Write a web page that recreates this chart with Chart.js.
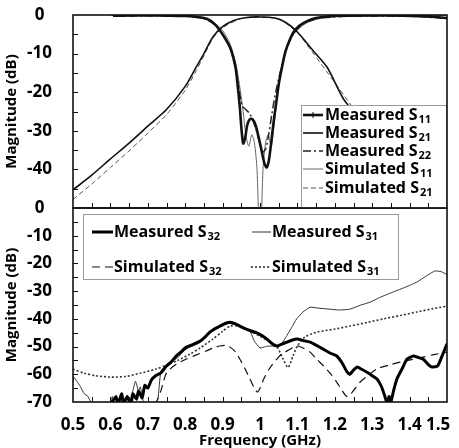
<!DOCTYPE html>
<html><head><meta charset="utf-8">
<script src="https://cdn.jsdelivr.net/npm/chart.js@4"></script>
<style>
html,body{margin:0;padding:0;background:#fff;width:459px;height:448px;overflow:hidden}
canvas{position:absolute;left:0;top:0}
</style></head>
<body>
<canvas id="bot" width="459" height="448"></canvas>
<canvas id="top" width="459" height="448"></canvas>
<script>
// ---------- DATA ----------
const xTickLabels = [0.5,0.6,0.7,0.8,0.9,1,1.1,1.2,1.3,1.4,1.5];
const xMinorTicks = [0.55,0.6,0.65,0.7,0.75,0.8,0.85,0.9,0.95,1,1.05,1.1,1.15,1.2,1.25,1.3,1.35,1.4,1.45];
const topYTickLabels = [0,-10,-20,-30,-40];
const botYTickLabels = [0,-10,-20,-30,-40,-50,-60,-70];
const topYMinor = [-5,-10,-15,-20,-25,-30,-35,-40,-45];
const botYMinor = [-5,-10,-15,-20,-25,-30,-35,-40,-45,-50,-55,-60,-65];

const topSeriesNames = ['Measured S11','Measured S21','Measured S22','Simulated S11','Simulated S21'];
const botSeriesNames = ['Measured S32','Measured S31','Simulated S32','Simulated S31'];

// Top panel
const measS11_f = [0.607,0.65,0.7,0.75,0.8,0.83,0.85,0.866,0.88,0.893,0.905,0.92,0.928,0.935,0.94,0.946,0.95,0.955,0.96,0.966,0.973,0.98,0.988,0.996,1.004,1.012,1.018,1.024,1.03,1.036,1.043,1.05,1.059,1.068,1.078,1.09,1.105,1.126,1.15,1.18,1.22,1.3,1.38,1.43,1.47,1.5];
const measS11_db = [-0.2,-0.1,-0.1,-0.15,-0.25,-0.5,-0.8,-1.4,-2.5,-4.0,-5.8,-8.4,-10.8,-13.8,-18,-23.8,-29,-33.3,-32,-28.5,-27,-27,-28.5,-31.5,-35,-38.5,-39.5,-37.5,-33,-28,-23,-18,-13.4,-9.5,-6.8,-4.4,-2.8,-1.6,-0.8,-0.4,-0.2,-0.1,-0.15,-0.3,-0.5,-0.8];

const measS21_f = [0.5,0.55,0.6,0.65,0.7,0.75,0.8,0.83,0.85,0.874,0.9,0.93,0.96,1.0,1.04,1.07,1.1,1.14,1.18,1.225,1.3,1.4,1.5];
const measS21_db = [-45.3,-41.5,-37.3,-33.2,-28.8,-24.5,-18.5,-13.4,-10,-5.7,-3.0,-1.4,-0.7,-0.5,-0.8,-2,-4.4,-9,-13.6,-22,-30,-38,-45];

const measS22_f = [0.607,0.7,0.8,0.85,0.88,0.9,0.92,0.935,0.945,0.952,0.962,0.972,0.982,0.992,1.0,1.008,1.016,1.024,1.032,1.04,1.05,1.06,1.07,1.09,1.12,1.16,1.25,1.4,1.5];
const measS22_db = [-0.3,-0.2,-0.3,-0.9,-2.6,-5,-8.6,-14,-20,-23.5,-24.5,-25.5,-27.5,-30.5,-33.5,-35.5,-34.5,-30.5,-25.5,-21,-16.5,-12.5,-9,-4.8,-2,-0.8,-0.3,-0.3,-0.9];

const simS11_f = [0.6,0.7,0.8,0.85,0.88,0.9,0.92,0.935,0.945,0.955,0.962,0.97,0.978,0.985,0.992,0.997,1.0,1.003,1.008,1.015,1.022,1.03,1.036,1.045,1.055,1.065,1.08,1.1,1.13,1.17,1.25,1.5];
const simS11_db = [-0.05,-0.1,-0.2,-0.7,-2.2,-4,-7.5,-12.5,-18,-25,-31,-34,-31,-33,-40,-55,-60,-55,-40,-33,-31,-34,-30,-22,-15,-10.5,-6.5,-3.8,-1.8,-0.7,-0.2,-0.1];

const simS21_f = [0.5,0.55,0.6,0.65,0.7,0.75,0.8,0.83,0.85,0.874,0.9,0.95,1.0,1.05,1.1,1.14,1.2,1.3,1.4,1.5];
const simS21_db = [-47.8,-43.8,-39.5,-35.2,-30.6,-25.8,-19.5,-14.3,-10.6,-6.0,-3.3,-0.9,-0.5,-1.0,-4.6,-9.6,-17.5,-30.5,-39,-46];

// Bottom panel
const measS32_f = [0.6,0.615,0.62,0.63,0.635,0.645,0.655,0.66,0.67,0.675,0.685,0.692,0.7,0.71,0.72,0.735,0.75,0.763,0.776,0.79,0.803,0.82,0.84,0.855,0.866,0.88,0.893,0.91,0.92,0.935,0.946,0.96,0.975,0.99,1.005,1.02,1.035,1.045,1.06,1.072,1.085,1.1,1.115,1.134,1.15,1.17,1.19,1.205,1.22,1.232,1.24,1.25,1.26,1.272,1.285,1.3,1.313,1.325,1.334,1.34,1.345,1.35,1.357,1.366,1.38,1.393,1.41,1.425,1.436,1.45,1.46,1.475,1.485,1.5];
const measS32_db = [-71,-68,-71,-67,-70.5,-68,-71,-67,-69,-66,-68.5,-64,-65,-62,-60.6,-59.5,-57,-55.5,-53.4,-51.8,-50.2,-49.3,-48,-46.3,-44.8,-43.5,-42.6,-41.5,-41.2,-41.8,-42.6,-43.5,-44.3,-45,-46,-47.5,-49.2,-49.8,-49,-48.4,-47.7,-47.3,-47.8,-48.4,-49.5,-51,-52.5,-53.4,-56,-59,-60,-58.5,-57.4,-58.2,-59.2,-60.5,-61.7,-64.5,-68,-70.5,-68,-70,-66,-61.7,-58,-54.5,-53.4,-54,-54.5,-56.5,-57.4,-57,-54,-49];

const measS31_f = [0.5,0.502,0.51,0.52,0.53,0.54,0.55,0.6,0.605,0.61,0.64,0.645,0.65,0.66,0.667,0.675,0.68,0.69,0.72,0.727,0.735,0.75,0.76,0.78,0.8,0.82,0.84,0.86,0.88,0.9,0.92,0.94,0.96,0.973,0.985,1.0,1.015,1.027,1.053,1.072,1.085,1.098,1.115,1.134,1.16,1.187,1.21,1.24,1.27,1.294,1.32,1.356,1.39,1.42,1.445,1.468,1.485,1.5];
const measS31_db = [-63,-61,-62.5,-64.5,-67,-68,-70.5,-70.5,-68,-70.5,-70.5,-67.5,-70.5,-66,-62.5,-66,-64.5,-70.5,-70.5,-69,-59,-56.5,-55.5,-54,-51,-49.8,-48.5,-45.5,-44,-42.3,-41.6,-42.5,-43.6,-44.4,-48,-50.5,-50,-49.8,-49.8,-46,-43,-40,-37.5,-35.8,-36.2,-36.5,-36.8,-36.5,-35,-34,-32.3,-30.3,-28.5,-26.7,-24.5,-22.7,-23,-24];

const simS32_f = [0.72,0.735,0.75,0.775,0.803,0.83,0.856,0.875,0.893,0.91,0.92,0.935,0.946,0.96,0.973,0.985,0.993,1.0,1.01,1.025,1.045,1.06,1.08,1.09,1.1,1.115,1.134,1.15,1.17,1.19,1.205,1.22,1.232,1.24,1.252,1.268,1.29,1.313,1.345,1.375,1.405,1.436,1.465,1.5];
const simS32_db = [-71,-66,-59.5,-56.5,-54.5,-53,-51.6,-50.5,-49.8,-49.6,-50.2,-52,-54.5,-58,-61.7,-65,-66.4,-65,-61.7,-58,-54.5,-52.5,-51,-50.2,-49.8,-50.5,-52,-54.3,-57,-60,-62.8,-66,-68,-67.5,-65.5,-62.8,-60.3,-58,-56.7,-55.6,-54.7,-53.8,-52.9,-52];

const simS31_f = [0.5,0.53,0.56,0.6,0.64,0.68,0.72,0.75,0.78,0.813,0.84,0.874,0.9,0.92,0.94,0.96,0.98,1.0,1.02,1.045,1.06,1.075,1.088,1.1,1.12,1.152,1.2,1.24,1.29,1.33,1.375,1.42,1.46,1.5];
const simS31_db = [-58.1,-59.6,-60.5,-61,-60.8,-59.6,-58.2,-56.7,-55,-52.7,-50.5,-47.3,-44.5,-42.6,-42.5,-43.3,-44.8,-46.3,-47.8,-50,-54,-57.5,-53.5,-49.8,-46.6,-44.8,-43.7,-42.6,-41.2,-40,-38.8,-37.5,-36.4,-35.4];

// ---------- HELPERS ----------
const FONT = '"Open Sans", "Liberation Sans", sans-serif';
const pts = (f, d) => f.map((v, i) => ({x: v, y: d[i]}));
const splitName = n => { const m = n.match(/^(.*S)(\d+)$/); return m ? [m[1], m[2]] : [n, '']; };

function drawLegend(ctx, L, chart) {
  ctx.save();
  ctx.fillStyle = '#fff';
  ctx.fillRect(L.box[0], L.box[1], L.box[2], L.box[3]);
  ctx.strokeStyle = '#9a9a9a'; ctx.lineWidth = 1;
  ctx.strokeRect(L.box[0] + 0.5, L.box[1] + 0.5, L.box[2] - 1, L.box[3] - 1);
  L.items.forEach((it, i) => {
    const ds = chart.data.datasets[i];
    ctx.save();
    ctx.strokeStyle = ds.borderColor; ctx.lineWidth = ds.borderWidth;
    ctx.setLineDash(ds.borderDash || []);
    ctx.beginPath(); ctx.moveTo(it[0], it[3]); ctx.lineTo(it[1], it[3]); ctx.stroke();
    if (ds.legendTick) {
      ctx.setLineDash([]); ctx.lineWidth = 1;
      ctx.beginPath(); const cx = (it[0] + it[1]) / 2;
      ctx.moveTo(cx, it[3] - 3); ctx.lineTo(cx, it[3] + 3); ctx.stroke();
    }
    ctx.restore();
    const [base, sub] = splitName(ds.label);
    ctx.fillStyle = '#000'; ctx.textBaseline = 'middle'; ctx.textAlign = 'left';
    ctx.font = 'bold ' + L.fs + 'px ' + FONT;
    ctx.fillText(base, it[2], it[3]);
    const w = ctx.measureText(base).width;
    ctx.font = 'bold ' + Math.round(L.fs * 0.68) + 'px ' + FONT;
    ctx.fillText(sub, it[2] + w + 1, it[3] + 5);
  });
  ctx.restore();
}

const framePlugin = {
  id: 'frame',
  afterDraw(chart, args, o) {
    const {ctx, chartArea: a, scales} = chart;
    ctx.save();
    if (o.legend) drawLegend(ctx, o.legend, chart);
    ctx.strokeStyle = '#111'; ctx.lineWidth = 1;
    ctx.beginPath();
    o.yMinor.forEach(v => { const py = Math.round(scales.y.getPixelForValue(v)) + 0.5; ctx.moveTo(a.left, py); ctx.lineTo(a.left + 5, py); });
    o.xMinor.forEach(v => { const px = Math.round(scales.x.getPixelForValue(v)) + 0.5; ctx.moveTo(px, a.bottom); ctx.lineTo(px, a.bottom - 5); });
    ctx.stroke();
    ctx.lineWidth = 1.6; ctx.strokeStyle = '#111';
    ctx.strokeRect(a.left, a.top, a.right - a.left, a.bottom - a.top);
    ctx.restore();
  }
};

function ds(label, f, d, color, width, dash, extra) {
  return Object.assign({label, data: pts(f, d), borderColor: color, borderWidth: width, borderDash: dash,
    pointRadius: 0, fill: false, tension: 0.25, borderJoinStyle: 'round', borderCapStyle: 'butt'}, extra || {});
}

function yAxis(min, ticks) {
  return {
    type: 'linear', min, max: 0,
    afterFit(s) { s.width = 73; s.paddingTop = 0; s.paddingBottom = 0; },
    afterBuildTicks(s) { s.ticks = ticks.map(v => ({value: v})); },
    grid: {display: false, drawTicks: false},
    border: {display: false},
    ticks: {padding: 21, crossAlign: 'center', color: '#000', font: {family: FONT, size: 17, weight: 'bold'}},
    title: {display: true, text: 'Magnitude (dB)', color: '#000', padding: {top: 3, bottom: 0},
      font: {family: FONT, size: 15, weight: 'bold'}}
  };
}

Chart.defaults.font.family = FONT;

// ---------- TOP CHART ----------
new Chart(document.getElementById('top'), {
  type: 'line',
  data: {datasets: [
    ds(topSeriesNames[0], measS11_f, measS11_db, '#111', 2.6, [], {legendTick: true}),
    ds(topSeriesNames[1], measS21_f, measS21_db, '#111', 1.6, []),
    ds(topSeriesNames[2], measS22_f, measS22_db, '#222', 1.5, [8, 3, 2, 3]),
    ds(topSeriesNames[3], simS11_f, simS11_db, '#666', 1, []),
    ds(topSeriesNames[4], simS21_f, simS21_db, '#555', 1, [5, 3])
  ]},
  options: {
    responsive: false, animation: false, events: [],
    layout: {padding: {left: 0, right: 12, top: 15, bottom: 240}},
    plugins: {
      legend: {display: false}, tooltip: {enabled: false},
      frame: {yMinor: topYMinor, xMinor: xMinorTicks,
        legend: {box: [301, 105, 146, 103], fs: 16,
          items: [[303, 323, 325, 115], [303, 323, 325, 133], [303, 323, 325, 151], [303, 323, 325, 169], [303, 323, 325, 188]]}}
    },
    scales: {
      x: {type: 'linear', min: 0.5, max: 1.5, display: false},
      y: yAxis(-50, topYTickLabels)
    }
  },
  plugins: [framePlugin]
});

// ---------- BOTTOM CHART ----------
new Chart(document.getElementById('bot'), {
  type: 'line',
  data: {datasets: [
    ds(botSeriesNames[0], measS32_f, measS32_db, '#000', 3, [], {tension: 0.15}),
    ds(botSeriesNames[1], measS31_f, measS31_db, '#333', 1, [], {tension: 0.15}),
    ds(botSeriesNames[2], simS32_f, simS32_db, '#111', 1.2, [8, 5]),
    ds(botSeriesNames[3], simS31_f, simS31_db, '#333', 1.6, [2, 2])
  ]},
  options: {
    responsive: false, animation: false, events: [],
    layout: {padding: {left: 0, right: 12, top: 208, bottom: 0}},
    plugins: {
      legend: {display: false}, tooltip: {enabled: false},
      frame: {yMinor: botYMinor, xMinor: xMinorTicks,
        legend: {box: [83, 214, 316, 66], fs: 16,
          items: [[92, 113, 114, 232], [252, 271, 272, 232], [92, 113, 114, 267], [251, 271, 272, 267]]}}
    },
    scales: {
      x: {
        type: 'linear', min: 0.5, max: 1.5,
        afterFit(s) { s.height = 46; s.paddingLeft = 0; s.paddingRight = 0; },
        afterBuildTicks(s) { s.ticks = xTickLabels.map(v => ({value: v})); },
        grid: {display: false, drawTicks: false},
        border: {display: false},
        ticks: {padding: 13, color: '#000', maxRotation: 0, autoSkip: false,
          font: {family: FONT, size: 17, weight: 'bold'},
          callback: v => v === 1.5 ? '1.5    ' : String(v)},
        title: {display: true, text: 'Frequency (GHz)', color: '#000', padding: {top: 0, bottom: -2},
          font: {family: FONT, size: 15, weight: 'bold'}}
      },
      y: yAxis(-70, botYTickLabels)
    }
  },
  plugins: [framePlugin]
});
</script>
</body></html>
